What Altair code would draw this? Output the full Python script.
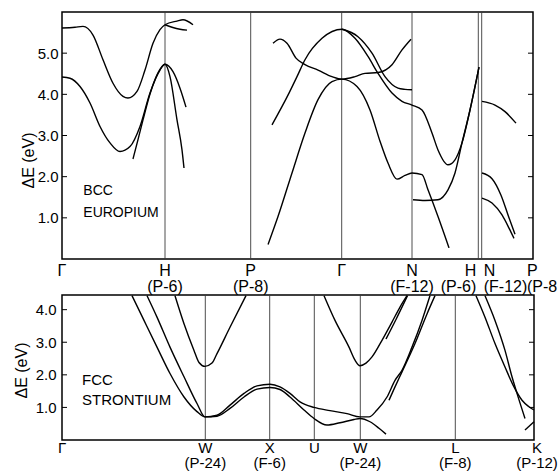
import altair as alt
import pandas as pd

FONT = "Liberation Sans"

# ---------------- BCC europium (upper panel) ----------------
bcc_sym_k = [0.0, 1.03, 1.887, 2.797, 3.50, 4.163, 4.197, 4.71]
bcc_sym_text = ["Γ", "H\n(P-6)", "P\n(P-8)", "Γ", "N\n(F-12)", "H\n(P-6)", "N\n(F-12)", "P\n(P-8"]
bcc_sym_align = ["center", "center", "center", "center", "center", "right", "left", "left"]
bcc_sym_dx = [0, 0, 0, 0, 0, -2, 2, -6]
bcc_lines_k = [1.03, 1.887, 2.797, 3.50, 4.163, 4.197]
bcc_yticks = [1, 2, 3, 4, 5]

bcc_t1_k = [0.00, 0.13, 0.21, 0.31, 0.41, 0.51, 0.61, 0.66, 0.75, 0.83, 0.91, 0.98, 1.03, 1.15, 1.21, 1.31]
bcc_t1_e = [5.61, 5.63, 5.65, 5.44, 4.84, 4.27, 3.95, 3.91, 4.07, 4.59, 5.24, 5.57, 5.69, 5.78, 5.81, 5.69]
bcc_t1b_k = [1.03, 1.10, 1.18, 1.25]
bcc_t1b_e = [5.69, 5.63, 5.58, 5.56]
bcc_t2_k = [0.00, 0.08, 0.18, 0.28, 0.38, 0.48, 0.58, 0.68, 0.78, 0.88, 0.98, 1.03, 1.11, 1.18, 1.24]
bcc_t2_e = [4.42, 4.39, 4.19, 3.79, 3.22, 2.82, 2.61, 2.73, 3.22, 4.03, 4.59, 4.73, 4.55, 4.15, 3.69]
bcc_t2b_k = [0.71, 0.76, 0.81, 0.88, 0.96, 1.03, 1.08, 1.15, 1.20, 1.22]
bcc_t2b_e = [2.43, 2.90, 3.38, 4.01, 4.52, 4.73, 4.43, 3.38, 2.65, 2.21]
bcc_a_k = [2.10, 2.27, 2.35, 2.43, 2.60, 2.80, 2.93, 3.06, 3.16, 3.30, 3.40, 3.50, 3.60, 3.70, 3.76, 3.86, 3.93, 4.00, 4.08, 4.17]
bcc_a_e = [3.26, 4.03, 4.43, 4.84, 5.36, 5.58, 5.36, 4.92, 4.51, 4.03, 3.83, 3.74, 3.62, 3.06, 2.65, 2.29, 2.41, 2.82, 3.62, 4.66]
bcc_a2_k = [2.80, 2.96, 3.10, 3.23, 3.36, 3.43, 3.50]
bcc_a2_e = [5.58, 5.40, 5.00, 4.43, 4.15, 4.12, 4.11]
bcc_b_k = [2.11, 2.18, 2.25, 2.34, 2.43, 2.56, 2.70, 2.80, 2.93, 3.03, 3.16, 3.30, 3.40, 3.49]
bcc_b_e = [5.24, 5.34, 5.24, 4.88, 4.72, 4.59, 4.43, 4.37, 4.43, 4.51, 4.53, 4.72, 5.08, 5.34]
bcc_c_k = [2.06, 2.16, 2.30, 2.43, 2.56, 2.70, 2.80, 2.95, 3.08, 3.18, 3.26, 3.35, 3.43, 3.50, 3.60, 3.66, 3.76, 3.87]
bcc_c_e = [0.35, 1.03, 2.09, 3.06, 3.87, 4.31, 4.37, 4.19, 3.62, 2.86, 2.33, 1.94, 2.03, 2.09, 2.05, 1.68, 1.03, 0.27]
bcc_d_k = [3.51, 3.63, 3.76, 3.86, 3.93, 4.00, 4.08, 4.17]
bcc_d_e = [1.44, 1.42, 1.44, 1.68, 2.09, 2.82, 3.62, 4.66]
bcc_e1_k = [4.20, 4.33, 4.43, 4.54]
bcc_e1_e = [3.83, 3.74, 3.58, 3.30]
bcc_e2_k = [4.20, 4.30, 4.39, 4.47, 4.53]
bcc_e2_e = [2.09, 1.95, 1.55, 1.00, 0.60]
bcc_e3_k = [4.20, 4.30, 4.40, 4.47, 4.52]
bcc_e3_e = [1.48, 1.36, 1.07, 0.75, 0.50]

bcc_note_k = [0.213, 0.213]
bcc_note_e = [1.56, 1.03]
bcc_note_text = ["BCC", "EUROPIUM"]

# ---------------- FCC strontium (lower panel) ----------------
fcc_sym_k = [0.0, 1.433, 2.077, 2.523, 2.983, 3.933, 4.72]
fcc_sym_text = ["Γ", "W\n(P-24)", "X\n(F-6)", "U", "W\n(P-24)", "L\n(F-8)", "K\n(P-12)"]
fcc_sym_align = ["center"] * 7
fcc_sym_dx = [0, 0, 0, 0, 0, 0, 3]
fcc_lines_k = [1.433, 2.077, 2.523, 2.983, 3.933]
fcc_yticks = [1, 2, 3, 4]

fcc_s1_k = [0.70, 0.82, 0.95, 1.08, 1.22, 1.35, 1.43, 1.55, 1.68, 1.82, 1.95, 2.08, 2.18, 2.28, 2.38, 2.52, 2.68, 2.85, 2.98, 3.07, 3.15, 3.25, 3.33, 3.40, 3.50, 3.60, 3.68]
fcc_s1_e = [4.43, 3.67, 2.85, 2.04, 1.32, 0.87, 0.71, 0.76, 1.07, 1.43, 1.66, 1.71, 1.63, 1.43, 1.17, 1.00, 0.90, 0.81, 0.71, 0.71, 0.92, 1.32, 1.83, 2.14, 2.85, 3.67, 4.43]
fcc_s2_k = [0.85, 0.95, 1.08, 1.22, 1.35, 1.43, 1.55, 1.68, 1.82, 1.95, 2.08, 2.18, 2.28, 2.42, 2.52, 2.65, 2.78, 2.92, 2.98, 3.08, 3.17, 3.24]
fcc_s2_e = [4.43, 3.77, 2.85, 1.94, 1.12, 0.71, 0.73, 0.97, 1.32, 1.56, 1.61, 1.55, 1.32, 0.92, 0.66, 0.46, 0.53, 0.63, 0.66, 0.56, 0.36, 0.18]
fcc_s3_k = [1.13, 1.22, 1.32, 1.37, 1.43, 1.50, 1.55, 1.68, 1.84]
fcc_s3_e = [4.43, 3.57, 2.75, 2.38, 2.26, 2.36, 2.65, 3.46, 4.43]
fcc_s4_k = [2.62, 2.73, 2.87, 2.93, 2.98, 3.04, 3.10, 3.20, 3.30, 3.38, 3.45]
fcc_s4_e = [4.43, 3.67, 2.85, 2.45, 2.28, 2.36, 2.55, 3.06, 3.62, 4.08, 4.43]
fcc_s4p_k = [3.24, 3.34, 3.455]
fcc_s4p_e = [3.10, 3.70, 4.43]
fcc_l3_k = [3.27, 3.33, 3.40, 3.53, 3.65, 3.73]
fcc_l3_e = [1.22, 1.63, 2.09, 2.96, 3.87, 4.43]
fcc_ka_k = [4.14, 4.23, 4.33, 4.43, 4.52, 4.60, 4.67, 4.72]
fcc_ka_e = [4.43, 3.77, 2.96, 2.24, 1.63, 1.22, 1.02, 0.92]
fcc_kb_k = [4.23, 4.33, 4.43, 4.50, 4.55, 4.63]
fcc_kb_e = [4.43, 3.67, 2.75, 1.94, 1.43, 0.66]
fcc_kc_k = [4.63, 4.72]
fcc_kc_e = [0.31, 0.56]

fcc_note_k = [0.20, 0.20]
fcc_note_e = [1.68, 1.07]
fcc_note_text = ["FCC", "STRONTIUM"]


def curves_frame(named):
    rows = []
    for name, (ks, es) in named.items():
        for k, e in zip(ks, es):
            rows.append({"curve": name, "k": k, "E": e})
    return pd.DataFrame(rows)


bcc_curves = curves_frame({
    "t1": (bcc_t1_k, bcc_t1_e), "t1b": (bcc_t1b_k, bcc_t1b_e),
    "t2": (bcc_t2_k, bcc_t2_e), "t2b": (bcc_t2b_k, bcc_t2b_e),
    "a": (bcc_a_k, bcc_a_e), "a2": (bcc_a2_k, bcc_a2_e),
    "b": (bcc_b_k, bcc_b_e), "c": (bcc_c_k, bcc_c_e), "d": (bcc_d_k, bcc_d_e),
    "e1": (bcc_e1_k, bcc_e1_e), "e2": (bcc_e2_k, bcc_e2_e), "e3": (bcc_e3_k, bcc_e3_e),
})
fcc_curves = curves_frame({
    "s1": (fcc_s1_k, fcc_s1_e), "s2": (fcc_s2_k, fcc_s2_e),
    "s3": (fcc_s3_k, fcc_s3_e), "s4": (fcc_s4_k, fcc_s4_e),
    "s4p": (fcc_s4p_k, fcc_s4p_e), "l3": (fcc_l3_k, fcc_l3_e),
    "ka": (fcc_ka_k, fcc_ka_e), "kb": (fcc_kb_k, fcc_kb_e), "kc": (fcc_kc_k, fcc_kc_e),
})


def panel(curves, sym_k, sym_text, sym_align, sym_dx, lines_k, yticks, note_k, note_e, note_text,
          xmax, ymax, W, H, label_dy, label_size, line_h, title_x, title_y, label_pad, note_size):
    xs = alt.Scale(domain=[0, xmax], nice=False, zero=False)
    ys = alt.Scale(domain=[0, ymax], nice=False, zero=False)
    yaxis = alt.Axis(values=yticks, format=".1f", title="ΔE (eV)", labelPadding=label_pad,
                     titleX=title_x, titleY=title_y, titleAngle=270, titleAlign="center",
                     titleBaseline="middle")
    X = alt.X("k:Q", scale=xs, axis=None)
    Y = alt.Y("E:Q", scale=ys, axis=yaxis)

    vlines = alt.Chart(pd.DataFrame({"k": lines_k})).mark_rule(
        color="#3a3a3a", strokeWidth=0.9).encode(x=X, y=alt.value(0), y2=alt.value(H))

    lines = alt.Chart(curves).mark_line(
        color="black", strokeWidth=1.4, interpolate="monotone").encode(
        x=X, y=Y, detail="curve:N")

    tdf = pd.DataFrame({"E": yticks})
    lt = alt.Chart(tdf).mark_rule(color="black", strokeWidth=1).encode(
        y=Y, x=alt.value(0), x2=alt.value(5))
    rt = alt.Chart(tdf).mark_rule(color="black", strokeWidth=1).encode(
        y=Y, x=alt.value(W - 5), x2=alt.value(W))

    lab = pd.DataFrame({"k": sym_k, "label": sym_text, "al": sym_align, "dx": sym_dx})
    layers = [vlines, lines, lt, rt]
    for (al, dx), sub in lab.groupby(["al", "dx"]):
        layers.append(
            alt.Chart(sub[["k", "label"]]).mark_text(
                align=al, baseline="top", lineBreak="\n", fontSize=label_size, font=FONT,
                lineHeight=line_h, dx=int(dx), color="black").encode(
                x=X, y=alt.value(H + label_dy), text="label:N"))

    notes = pd.DataFrame({"k": note_k, "E": note_e, "t": note_text})
    layers.append(alt.Chart(notes).mark_text(
        align="left", baseline="alphabetic", font=FONT, fontSize=note_size,
        color="black").encode(x=X, y=Y, text="t:N"))

    return alt.layer(*layers).properties(width=W, height=H)


top = panel(bcc_curves, bcc_sym_k, bcc_sym_text, bcc_sym_align, bcc_sym_dx, bcc_lines_k, bcc_yticks,
            bcc_note_k, bcc_note_e, bcc_note_text,
            xmax=4.71, ymax=6.0, W=471, H=247, label_dy=4, label_size=16, line_h=16,
            title_x=-34, title_y=148, label_pad=4, note_size=14)
bottom = panel(fcc_curves, fcc_sym_k, fcc_sym_text, fcc_sym_align, fcc_sym_dx, fcc_lines_k, fcc_yticks,
               fcc_note_k, fcc_note_e, fcc_note_text,
               xmax=4.72, ymax=4.45, W=472, H=145, label_dy=1, label_size=15, line_h=15,
               title_x=-41, title_y=75, label_pad=6, note_size=15)

chart = alt.vconcat(top, bottom, spacing=36, bounds="flush").properties(
    padding={"left": 12, "top": 10, "right": 0, "bottom": 0},
    background="white",
).configure_view(
    stroke="black", strokeWidth=1.5
).configure_axis(
    labelFont=FONT, labelFontSize=15, labelColor="black",
    titleFont=FONT, titleFontSize=16, titleFontWeight="normal", titleColor="black",
    ticks=False, domain=False, grid=False,
)

chart.save("out.html", embed_options={"renderer": "svg", "actions": False})
